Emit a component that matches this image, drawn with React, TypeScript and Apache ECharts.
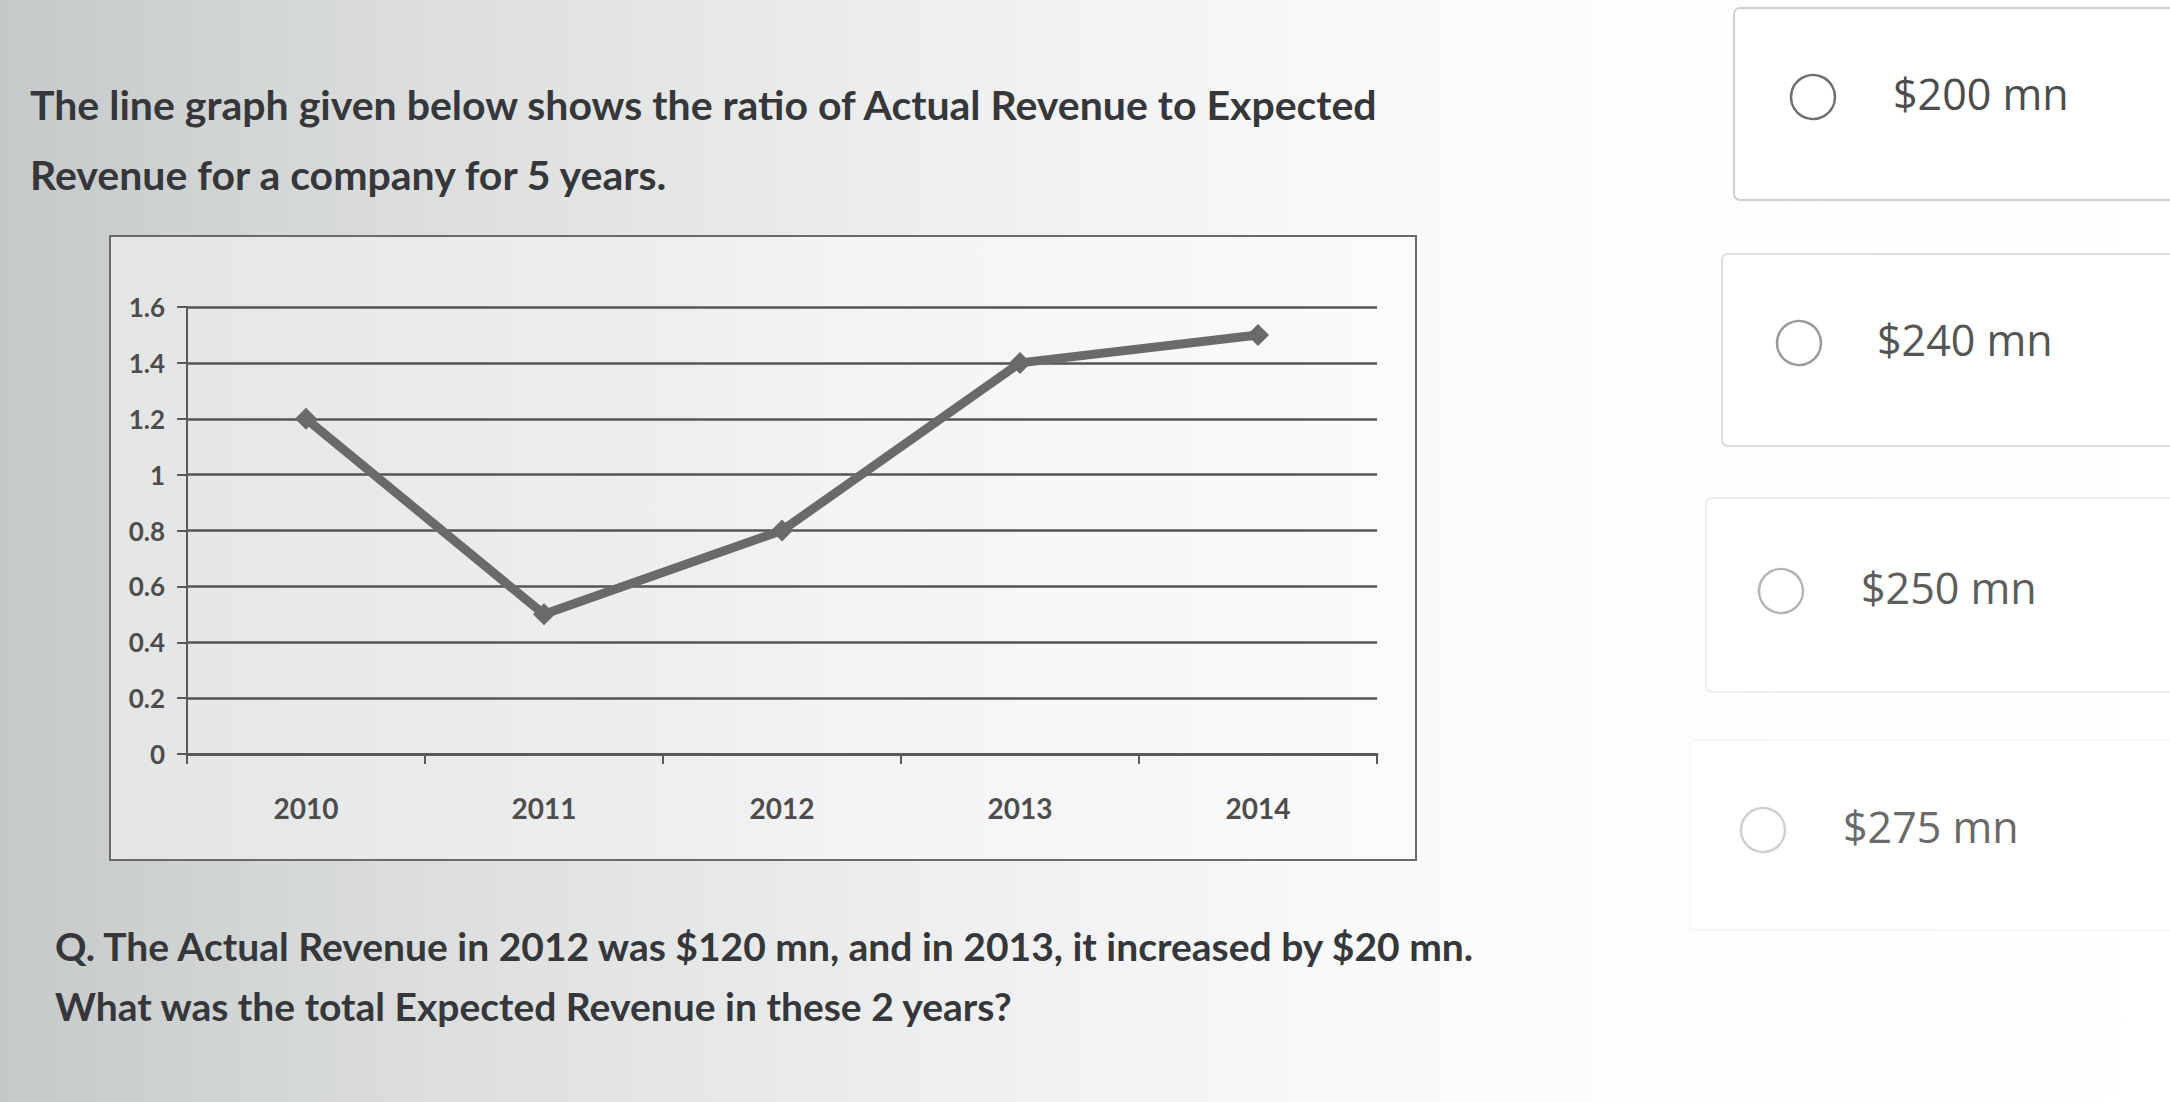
import React, { useEffect, useRef } from "react";
import * as echarts from "echarts";

const years = ["2010", "2011", "2012", "2013", "2014"];
const ratios = [1.2, 0.5, 0.8, 1.4, 1.5];
const titleLines = [
  "The line graph given below shows the ratio of Actual Revenue to Expected",
  "Revenue for a company for 5 years.",
];
const questionLines = [
  "Q. The Actual Revenue in 2012 was $120 mn, and in 2013, it increased by $20 mn.",
  "What was the total Expected Revenue in these 2 years?",
];
const answerOptions = ["$200 mn", "$240 mn", "$250 mn", "$275 mn"];

const W = 2170;
const H = 1102;

export default function App() {
  const ref = useRef<HTMLDivElement>(null);
  useEffect(() => {
    if (!ref.current) return;
    const chart = echarts.init(ref.current, null, { renderer: "svg" });

    const boxLayout = [
      { x: 1734, y: 8, w: 460, h: 192, cx: 1813, cy: 97, tx: 1893, stroke: "#cfd1d1", circ: "#6f6f6f", txt: "#4d4d4d" },
      { x: 1722, y: 254, w: 470, h: 192, cx: 1799, cy: 343, tx: 1877, stroke: "#dcdede", circ: "#9a9a9a", txt: "#555" },
      { x: 1706, y: 498, w: 480, h: 194, cx: 1781, cy: 591, tx: 1861, stroke: "#eeeeee", circ: "#b5b5b5", txt: "#5e5e5e" },
      { x: 1690, y: 740, w: 490, h: 190, cx: 1763, cy: 830, tx: 1843, stroke: "#f7f7f7", circ: "#cfcfcf", txt: "#6a6a6a" },
    ];

    const graphicEls: any[] = [
      {
        type: "rect",
        z: -20,
        shape: { x: 0, y: 0, width: W, height: H },
        style: {
          fill: new echarts.graphic.LinearGradient(0, 0, 1, 0, [
            { offset: 0, color: "#c6c9c9" },
            { offset: 0.2, color: "#dcdfde" },
            { offset: 0.38, color: "#eaecec" },
            { offset: 0.5, color: "#f3f2f4" },
            { offset: 0.6, color: "#f8f8f8" },
            { offset: 0.75, color: "#fdfdfd" },
            { offset: 1, color: "#ffffff" },
          ]),
        },
      },
      {
        type: "rect",
        z: -10,
        shape: { x: 110, y: 236, width: 1306, height: 624 },
        style: {
          fill: new echarts.graphic.LinearGradient(0, 0, 1, 0, [
            { offset: 0, color: "#e4e6e6" },
            { offset: 0.45, color: "#eef0ef" },
            { offset: 0.55, color: "#f4f2f5" },
            { offset: 1, color: "#fbfbfb" },
          ]),
          stroke: "#6a6a6a",
          lineWidth: 2,
        },
      },
    ];

    titleLines.forEach((t, i) => {
      graphicEls.push({
        type: "text",
        x: 30,
        y: 104 + i * 70,
        style: {
          text: t,
          fill: "#35373a",
          font: "bold 41px Lato, 'Open Sans', sans-serif",
          textVerticalAlign: "middle",
        },
      });
    });
    questionLines.forEach((t, i) => {
      graphicEls.push({
        type: "text",
        x: 55,
        y: 946 + i * 60,
        style: {
          text: t,
          fill: "#35373a",
          font: "bold 39px Lato, 'Open Sans', sans-serif",
          textVerticalAlign: "middle",
        },
      });
    });
    answerOptions.forEach((t, i) => {
      const b = boxLayout[i];
      graphicEls.push({
        type: "rect",
        z: -5,
        shape: { x: b.x, y: b.y, width: b.w, height: b.h, r: 6 },
        style: { fill: "#ffffff", stroke: b.stroke, lineWidth: 2 },
      });
      graphicEls.push({
        type: "circle",
        shape: { cx: b.cx, cy: b.cy, r: 22 },
        style: { fill: "#ffffff", stroke: b.circ, lineWidth: 2.5 },
      });
      graphicEls.push({
        type: "text",
        x: b.tx,
        y: b.cy - 4,
        style: {
          text: t,
          fill: b.txt,
          font: "43px 'Open Sans', 'Noto Sans', sans-serif",
          textVerticalAlign: "middle",
        },
      });
    });

    chart.setOption({
      animation: false,
      graphic: { elements: graphicEls },
      grid: { left: 187, top: 307, width: 1190, height: 447, containLabel: false },
      xAxis: {
        type: "category",
        data: years,
        boundaryGap: true,
        axisLine: { show: true, lineStyle: { color: "#5a5a5a", width: 3 } },
        axisTick: { show: true, length: 10, interval: 0, lineStyle: { color: "#5a5a5a", width: 2 } },
        axisLabel: {
          margin: 40,
          fontSize: 28,
          fontWeight: "bold",
          color: "#4d4d4d",
          fontFamily: "'Liberation Sans Narrow', Lato, sans-serif",
        },
        splitLine: { show: false },
      },
      yAxis: {
        type: "value",
        min: 0,
        max: 1.6,
        interval: 0.2,
        axisLine: { show: true, lineStyle: { color: "#5a5a5a", width: 2 } },
        axisTick: { show: true, length: 10, lineStyle: { color: "#5a5a5a", width: 2 } },
        axisLabel: {
          margin: 22,
          fontSize: 26,
          fontWeight: "bold",
          color: "#4d4d4d",
          fontFamily: "'Liberation Sans Narrow', Lato, sans-serif",
        },
        splitLine: { show: true, lineStyle: { color: "#555555", width: 2.5 } },
      },
      series: [
        {
          type: "line",
          data: ratios,
          symbol: "diamond",
          symbolSize: 22,
          lineStyle: { color: "#696b6b", width: 9 },
          itemStyle: { color: "#696b6b" },
          z: 5,
        },
      ],
    });
    return () => chart.dispose();
  }, []);
  return (
    <div
      ref={ref}
      style={{ position: "absolute", left: 0, top: 0, width: W, height: H }}
    />
  );
}
